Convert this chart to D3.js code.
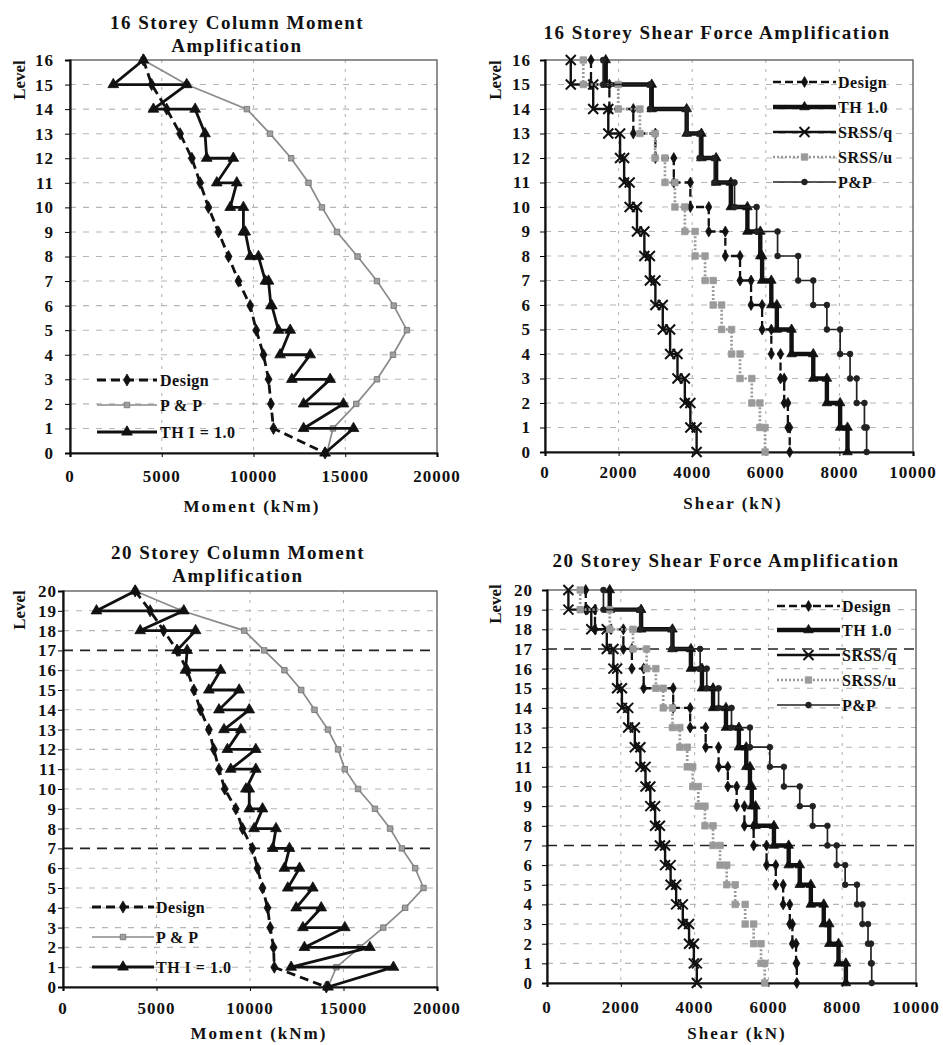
<!DOCTYPE html>
<html>
<head>
<meta charset="utf-8">
<script src="https://cdn.jsdelivr.net/npm/d3@7"></script>
<style>
  body { margin: 0; background: #fff; }
  svg text { font-family: "Liberation Serif", "Times New Roman", serif; font-weight: bold; fill: #111; }
</style>
</head>
<body>
<div id="chart"></div>
<script>
/**
 * DATA
 * moment arrays: one value per level, top level first
 * shear arrays: one value per storey, top storey first
 * */
const momentTicks = [0, 5000, 10000, 15000, 20000];
const shearTicks = [0, 2000, 4000, 6000, 8000, 10000];

// 16 storey column moment (kNm)
const mom16Design = [4000, 4450, 5270, 6000, 6640, 7090, 7545, 8090, 8640, 9180, 9820, 10150, 10545, 10820, 10950, 11090, 13900];
const mom16PP = [4000, 6360, 9640, 10900, 12050, 13000, 13730, 14550, 15670, 16730, 17640, 18360, 17600, 16730, 15600, 14330, 14000];
const mom16THLeft = [4000, 2360, 4545, 7360, 7450, 8000, 8730, 9450, 9820, 10650, 10950, 11360, 11450, 12090, 12730, 12730, 13900];
const mom16THRight = [4000, 6360, 6820, 7360, 8900, 9090, 9450, 9550, 10270, 10820, 11000, 12000, 13090, 14180, 14900, 15450, 13900];

// 20 storey column moment (kNm)
const mom20Design = [3860, 4660, 5380, 6100, 6640, 7000, 7350, 7800, 8070, 8340, 8650, 9240, 9600, 10130, 10400, 10670, 10940, 11080, 11260, 11300, 14080];
const mom20PP = [3860, 6370, 9690, 10760, 11840, 12740, 13450, 14170, 14710, 15070, 15780, 16680, 17490, 18120, 18830, 19280, 18300, 17130, 15870, 14620, 14170];
const mom20THLeft = [3860, 1790, 4130, 6100, 6550, 7800, 8340, 8610, 8790, 8970, 9780, 9960, 10220, 11210, 11840, 12020, 12470, 12830, 12910, 12200, 14170];
const mom20THRight = [3860, 6460, 7090, 6640, 8430, 9420, 9960, 9510, 10310, 10310, 9960, 10670, 11390, 12110, 12650, 13360, 13810, 15070, 16410, 17670, 14170];

// 16 storey shear (kN), storey 16 down to storey 1
const sh16Design = [1250, 1750, 2400, 3000, 3500, 3950, 4450, 4900, 5300, 5600, 5900, 6150, 6400, 6500, 6600, 6650];
const sh16TH = [1650, 2900, 3850, 4250, 4650, 5050, 5500, 5850, 5900, 6150, 6300, 6700, 7290, 7660, 8020, 8220];
const sh16SRSSq = [700, 1310, 1720, 2040, 2150, 2300, 2500, 2700, 2850, 3000, 3200, 3400, 3600, 3800, 3950, 4120];
const sh16SRSSu = [1040, 1990, 2580, 2990, 3260, 3530, 3800, 4080, 4350, 4570, 4800, 5070, 5300, 5620, 5840, 5980];
const sh16PP = [1580, 2850, 3850, 4200, 4600, 5150, 5750, 6320, 6880, 7290, 7660, 8020, 8290, 8470, 8680, 8740];

// 20 storey shear (kN), storey 20 down to storey 1
const sh20Design = [1050, 1300, 2070, 2300, 2620, 3420, 3880, 4300, 4650, 4900, 5140, 5350, 5600, 5950, 6200, 6400, 6580, 6650, 6750, 6770];
const sh20TH = [1700, 2550, 3400, 3900, 4200, 4500, 4850, 5200, 5400, 5500, 5550, 5650, 6150, 6550, 6850, 7150, 7500, 7650, 7900, 8100];
const sh20SRSSq = [580, 1200, 1620, 1800, 1900, 2030, 2200, 2380, 2530, 2670, 2800, 2930, 3060, 3200, 3350, 3500, 3680, 3850, 3980, 4060];
const sh20SRSSu = [900, 1700, 2330, 2700, 2950, 3150, 3400, 3600, 3800, 3950, 4100, 4280, 4500, 4690, 4870, 5100, 5370, 5600, 5800, 5900];
const sh20PP = [1530, 2520, 3380, 4150, 4330, 4650, 5000, 5500, 6040, 6420, 6850, 7200, 7600, 7850, 8080, 8400, 8550, 8700, 8780, 8800];

/**
 * POINT BUILDERS
 * */
function levelPoints(values, top) {
  return values.map((v, i) => [v, top - i]);
}
// TH moments: two values per level joined by a horizontal, then a diagonal down
function zigzagPoints(left, right, top) {
  const pts = [];
  left.forEach((v, i) => {
    pts.push([v, top - i]);
    if (right[i] !== v) pts.push([right[i], top - i]);
  });
  return pts;
}
// storey shear drawn as steps: storey k spans level k to level k-1
function stepPoints(storeys, top) {
  const pts = [];
  storeys.forEach((v, i) => {
    pts.push([v, top - i]);
    pts.push([v, top - i - 1]);
  });
  return pts;
}

/**
 * STYLES
 * */
const styles = {
  momDesign: { stroke: "#111", width: 2.8, dash: "9,5", marker: "diamond", size: 42, fill: "#111" },
  momPP: { stroke: "#8a8a8a", width: 1.7, dash: null, marker: "square", size: 30, fill: "#a0a0a0", mstroke: "#6e6e6e" },
  momTH: { stroke: "#111", width: 2.8, dash: null, marker: "triangle", size: 50, fill: "#111" },
  shDesign: { stroke: "#111", width: 2.3, dash: "8,4", marker: "diamond", size: 34, fill: "#111" },
  shTH: { stroke: "#111", width: 4.4, dash: null, marker: "triangle", size: 40, fill: "#111" },
  shSRSSq: { stroke: "#111", width: 2.4, dash: null, marker: "x", size: 5, fill: "none" },
  shSRSSu: { stroke: "#9a9a9a", width: 2.7, dash: "2,2", marker: "square", size: 42, fill: "#9a9a9a" },
  shPP: { stroke: "#222", width: 1.7, dash: null, marker: "circle", size: 26, fill: "#222" }
};

function markerPath(type, size) {
  if (type === "x") return `M${-size},${-size}L${size},${size}M${-size},${size}L${size},${-size}`;
  const t = { diamond: d3.symbolDiamond, square: d3.symbolSquare, triangle: d3.symbolTriangle, circle: d3.symbolCircle }[type];
  return d3.symbol().type(t).size(size)();
}

/**
 * PANELS
 * */
const panels = [
  {
    x0: 70, x1: 437, yTop: 60, yBot: 453, top: 16, xMax: 20000, ticks: momentTicks,
    title: ["16 Storey Column Moment", "Amplification"], titleX: 237, titleY: [22, 45],
    tickY: 476, levelRight: 54, xTitle: "Moment (kNm)", xTitleX: 252, xTitleY: 506, levelLab: [19, 80],
    darkLevels: [],
    series: [
      { name: "Design", style: "momDesign", pts: levelPoints(mom16Design, 16) },
      { name: "P & P", style: "momPP", pts: levelPoints(mom16PP, 16) },
      { name: "TH I = 1.0", style: "momTH", pts: zigzagPoints(mom16THLeft, mom16THRight, 16) }
    ],
    legend: { x: 97, len: 60, y: [380, 405, 432], textX: 160 }
  },
  {
    x0: 545, x1: 913, yTop: 60, yBot: 452, top: 16, xMax: 10000, ticks: shearTicks,
    title: ["16 Storey Shear Force Amplification"], titleX: 717, titleY: [32],
    tickY: 472, levelRight: 531, xTitle: "Shear (kN)", xTitleX: 733, xTitleY: 503, levelLab: [495, 80],
    darkLevels: [],
    series: [
      { name: "Design", style: "shDesign", pts: stepPoints(sh16Design, 16) },
      { name: "TH 1.0", style: "shTH", pts: stepPoints(sh16TH, 16) },
      { name: "SRSS/q", style: "shSRSSq", pts: stepPoints(sh16SRSSq, 16) },
      { name: "SRSS/u", style: "shSRSSu", pts: stepPoints(sh16SRSSu, 16) },
      { name: "P&P", style: "shPP", pts: stepPoints(sh16PP, 16) }
    ],
    legend: { x: 773, len: 63, y: [82, 107, 132, 157, 182], textX: 838 }
  },
  {
    x0: 63, x1: 437, yTop: 591, yBot: 987, top: 20, xMax: 20000, ticks: momentTicks,
    title: ["20 Storey Column Moment", "Amplification"], titleX: 238, titleY: [552, 575],
    tickY: 1008, levelRight: 57, xTitle: "Moment (kNm)", xTitleX: 259, xTitleY: 1033, levelLab: [19, 610],
    darkLevels: [17, 7],
    series: [
      { name: "Design", style: "momDesign", pts: levelPoints(mom20Design, 20) },
      { name: "P & P", style: "momPP", pts: levelPoints(mom20PP, 20) },
      { name: "TH I = 1.0", style: "momTH", pts: zigzagPoints(mom20THLeft, mom20THRight, 20) }
    ],
    legend: { x: 92, len: 62, y: [907, 937, 967], textX: 156 }
  },
  {
    x0: 547, x1: 916, yTop: 590, yBot: 983, top: 20, xMax: 10000, ticks: shearTicks,
    title: ["20 Storey Shear Force Amplification"], titleX: 726, titleY: [560],
    tickY: 1007, levelRight: 533, xTitle: "Shear (kN)", xTitleX: 737, xTitleY: 1033, levelLab: [495, 604],
    darkLevels: [17, 7],
    series: [
      { name: "Design", style: "shDesign", pts: stepPoints(sh20Design, 20) },
      { name: "TH 1.0", style: "shTH", pts: stepPoints(sh20TH, 20) },
      { name: "SRSS/q", style: "shSRSSq", pts: stepPoints(sh20SRSSq, 20) },
      { name: "SRSS/u", style: "shSRSSu", pts: stepPoints(sh20SRSSu, 20) },
      { name: "P&P", style: "shPP", pts: stepPoints(sh20PP, 20) }
    ],
    legend: { x: 777, len: 63, y: [606, 630, 655, 680, 705], textX: 842 }
  }
];

const svg = d3.select("#chart").append("svg")
  .attr("width", 943)
  .attr("height", 1045);

panels.forEach(drawPanel);

function drawMarkers(g, pts, st) {
  g.selectAll(null)
    .data(pts)
    .join("path")
    .attr("transform", d => `translate(${d[0]},${d[1]})`)
    .attr("d", markerPath(st.marker, st.size))
    .attr("fill", st.marker === "x" ? "none" : st.fill)
    .attr("stroke", st.marker === "x" ? st.stroke : (st.mstroke || st.fill))
    .attr("stroke-width", st.marker === "x" ? 2 : 0.8);
}

function drawPanel(p) {
  const g = svg.append("g");
  const x = d3.scaleLinear().domain([0, p.xMax]).range([p.x0, p.x1]);
  const y = d3.scaleLinear().domain([0, p.top]).range([p.yBot, p.yTop]);
  const levels = d3.range(0, p.top + 1);

  // grid
  g.append("g").selectAll("line")
    .data(levels.filter(l => l > 0 && l < p.top))
    .join("line")
    .attr("x1", p.x0).attr("x2", p.x1)
    .attr("y1", d => y(d)).attr("y2", d => y(d))
    .attr("stroke", d => p.darkLevels.includes(d) ? "#222" : "#b5b5b5")
    .attr("stroke-width", d => p.darkLevels.includes(d) ? 1.6 : 1.1)
    .attr("stroke-dasharray", d => p.darkLevels.includes(d) ? "10,7" : "6,7");
  g.append("g").selectAll("line")
    .data(p.ticks.slice(1, -1))
    .join("line")
    .attr("x1", d => x(d)).attr("x2", d => x(d))
    .attr("y1", p.yTop).attr("y2", p.yBot)
    .attr("stroke", "#b5b5b5")
    .attr("stroke-width", 1.1)
    .attr("stroke-dasharray", "3,6");

  // frame
  g.append("rect")
    .attr("x", p.x0).attr("y", p.yTop)
    .attr("width", p.x1 - p.x0).attr("height", p.yBot - p.yTop)
    .attr("fill", "none").attr("stroke", "#555").attr("stroke-width", 1.3);

  // axes
  const xAxis = g.append("g")
    .attr("transform", `translate(0,${p.yBot})`)
    .call(d3.axisBottom(x).tickValues(p.ticks).tickSize(4).tickFormat(d3.format("d")));
  xAxis.select(".domain").attr("stroke", "#111").attr("stroke-width", 2.2);
  xAxis.selectAll("text").remove();
  g.selectAll(null)
    .data(p.ticks)
    .join("text")
    .attr("x", d => x(d))
    .attr("y", p.tickY)
    .attr("dy", "0.35em")
    .attr("text-anchor", "middle")
    .style("font-size", "17px")
    .style("letter-spacing", "1px")
    .text(d => d);

  const yAxis = g.append("g")
    .attr("transform", `translate(${p.x0},0)`)
    .call(d3.axisLeft(y).tickValues(levels).tickSize(5).tickFormat(""));
  yAxis.select(".domain").attr("stroke", "#111").attr("stroke-width", 2.2);
  g.selectAll(null)
    .data(levels)
    .join("text")
    .attr("x", p.levelRight)
    .attr("y", d => y(d))
    .attr("dy", "0.35em")
    .attr("text-anchor", "end")
    .style("font-size", "17px")
    .style("letter-spacing", "1px")
    .text(d => d);

  // titles
  p.title.forEach((t, i) => {
    g.append("text")
      .attr("x", p.titleX).attr("y", p.titleY[i]).attr("dy", "0.35em")
      .attr("text-anchor", "middle")
      .style("font-size", "19px")
      .style("letter-spacing", "1.5px")
      .text(t);
  });
  g.append("text")
    .attr("x", p.xTitleX).attr("y", p.xTitleY).attr("dy", "0.35em")
    .attr("text-anchor", "middle")
    .style("font-size", "17px")
    .style("letter-spacing", "2px")
    .text(p.xTitle);
  g.append("text")
    .attr("transform", `translate(${p.levelLab[0]},${p.levelLab[1]}) rotate(-90)`)
    .attr("dy", "0.35em")
    .attr("text-anchor", "middle")
    .style("font-size", "17px")
    .text("Level");

  // series
  const line = d3.line().x(d => x(d[0])).y(d => y(d[1]));
  p.series.forEach(s => {
    const st = styles[s.style];
    g.append("path")
      .attr("d", line(s.pts))
      .attr("fill", "none")
      .attr("stroke", st.stroke)
      .attr("stroke-width", st.width)
      .attr("stroke-linejoin", "miter")
      .attr("stroke-dasharray", st.dash);
    drawMarkers(g.append("g"), s.pts.map(d => [x(d[0]), y(d[1])]), st);
  });

  // legend
  p.series.forEach((s, i) => {
    const st = styles[s.style];
    const ly = p.legend.y[i];
    const lg = g.append("g");
    lg.append("line")
      .attr("x1", p.legend.x).attr("x2", p.legend.x + p.legend.len)
      .attr("y1", ly).attr("y2", ly)
      .attr("stroke", st.stroke)
      .attr("stroke-width", st.width)
      .attr("stroke-dasharray", st.dash);
    drawMarkers(lg, [[p.legend.x + p.legend.len / 2, ly]], st);
    lg.append("text")
      .attr("x", p.legend.textX).attr("y", ly).attr("dy", "0.35em")
      .style("font-size", "16px")
      .style("letter-spacing", "0.5px")
      .text(s.name);
  });
}
</script>
</body>
</html>
